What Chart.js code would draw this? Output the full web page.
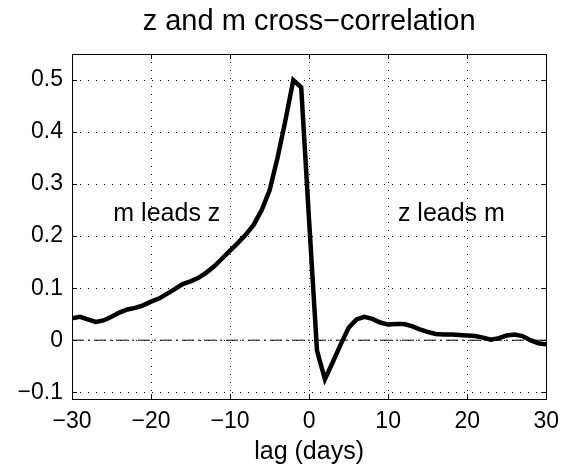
<!DOCTYPE html>
<html>
<head>
<meta charset="utf-8">
<script src="https://cdn.jsdelivr.net/npm/chart.js@4/dist/chart.umd.min.js"></script>
<style>
  html, body { margin: 0; padding: 0; background: #fff; }
  #wrap { width: 568px; height: 472px; position: relative; }
</style>
</head>
<body>
<div id="wrap"><canvas id="xcorrChart"></canvas></div>
<script>
// lag in days
const lags = [-30, -29, -28, -27, -26, -25, -24, -23, -22, -21, -20, -19, -18, -17, -16, -15, -14, -13, -12, -11, -10,
  -9, -8, -7, -6, -5, -4, -3, -2, -1, 0, 1, 2, 3, 4, 5, 6, 7, 8, 9, 10,
  11, 12, 13, 14, 15, 16, 17, 18, 19, 20, 21, 22, 23, 24, 25, 26, 27, 28, 29, 30];

// cross-correlation z / m
const xcorr = [0.042, 0.045, 0.040, 0.035, 0.038, 0.045, 0.053, 0.059, 0.062, 0.067, 0.074,
  0.080, 0.089, 0.098, 0.108, 0.113, 0.120, 0.130, 0.142, 0.157, 0.172,
  0.187, 0.203, 0.222, 0.250, 0.288, 0.350, 0.422, 0.500, 0.486, 0.230,
  -0.020, -0.075, -0.042, -0.008, 0.024, 0.040, 0.045, 0.041, 0.034, 0.030,
  0.031, 0.031, 0.027, 0.021, 0.016, 0.012, 0.011, 0.011, 0.010, 0.009,
  0.008, 0.005, 0.001, 0.004, 0.009, 0.011, 0.008, 0.000, -0.006, -0.008];

// dash-dot zero reference
const zeroX = [-30, 30];
const zeroY = [0, 0];

const xTicks = [-30, -20, -10, 0, 10, 20, 30];
const yTicks = [-0.1, 0, 0.1, 0.2, 0.3, 0.4, 0.5];

const notes = [
  { text: 'm leads z', x: -18, y: 0.2296 },
  { text: 'z leads m', x: 18, y: 0.2296 }
];

const FONT = '"Liberation Sans", Arial, Helvetica, sans-serif';

function fmt(v) {
  const r = Math.round(v * 10) / 10;
  const s = String(Math.abs(r));
  return r < 0 ? '\u2212' + s : s;
}

// frame, inward ticks and text labels like matlab
const boxPlugin = {
  id: 'box',
  afterDatasetsDraw(chart) {
    const ctx = chart.ctx;
    const a = chart.chartArea;
    const xs = chart.scales.x, ys = chart.scales.y;
    ctx.save();
    ctx.strokeStyle = '#000';
    ctx.lineWidth = 1;
    ctx.setLineDash([]);
    ctx.strokeRect(Math.round(a.left) + 0.5, Math.round(a.top) + 0.5,
      Math.round(a.right - a.left), Math.round(a.bottom - a.top));
    ctx.beginPath();
    xTicks.forEach(v => {
      const px = Math.round(xs.getPixelForValue(v)) + 0.5;
      ctx.moveTo(px, a.bottom); ctx.lineTo(px, a.bottom - 5);
      ctx.moveTo(px, a.top); ctx.lineTo(px, a.top + 5);
    });
    yTicks.forEach(v => {
      const py = Math.round(ys.getPixelForValue(v)) + 0.5;
      ctx.moveTo(a.left, py); ctx.lineTo(a.left + 5, py);
      ctx.moveTo(a.right, py); ctx.lineTo(a.right - 5, py);
    });
    ctx.stroke();

    ctx.fillStyle = '#000';
    ctx.font = '25px ' + FONT;
    ctx.textAlign = 'center';
    ctx.textBaseline = 'alphabetic';
    notes.forEach(n => {
      ctx.fillText(n.text, xs.getPixelForValue(n.x), ys.getPixelForValue(n.y));
    });
    ctx.restore();
  }
};

Chart.defaults.color = '#000';
Chart.defaults.font.family = FONT;

const ctx = document.getElementById('xcorrChart').getContext('2d');
const xcorrChart = new Chart(ctx, {
  type: 'line',
  data: {
    datasets: [{
      label: 'xcorr',
      data: lags.map((l, i) => ({ x: l, y: xcorr[i] })),
      borderColor: '#000',
      borderWidth: 4.5,
      pointRadius: 0,
      tension: 0,
      fill: false,
      order: 1
    }, {
      label: 'zero',
      data: zeroX.map((l, i) => ({ x: l, y: zeroY[i] })),
      borderColor: '#000',
      borderWidth: 1,
      borderDash: [12, 4, 2, 4],
      pointRadius: 0,
      fill: false,
      order: 2
    }]
  },
  options: {
    responsive: true,
    maintainAspectRatio: false,
    animation: false,
    layout: { padding: { left: 0, right: 16, top: 0, bottom: 0 } },
    plugins: {
      legend: { display: false },
      tooltip: { enabled: false },
      title: {
        display: true,
        text: 'z and m cross\u2212correlation',
        fullSize: false,
        font: { size: 29, weight: 'normal' },
        padding: { top: 5, bottom: 14.2 }
      }
    },
    scales: {
      x: {
        type: 'linear',
        min: -30,
        max: 30,
        afterBuildTicks: s => { s.ticks = xTicks.map(v => ({ value: v })); },
        afterFit: s => { s.height = 73; },
        ticks: {
          font: { size: 23 },
          padding: 9,
          maxRotation: 0,
          autoSkip: false,
          callback: v => fmt(v)
        },
        grid: { color: '#000', lineWidth: 1, drawTicks: false },
        border: { display: false, dash: [1, 7] },
        title: {
          display: true,
          text: 'lag (days)',
          font: { size: 25 },
          padding: { top: 0, bottom: 4.8 }
        }
      },
      y: {
        type: 'linear',
        min: -0.113,
        max: 0.55,
        afterBuildTicks: s => { s.ticks = yTicks.map(v => ({ value: v })); },
        afterFit: s => { s.width = 72; },
        ticks: {
          font: { size: 23 },
          padding: 9,
          autoSkip: false,
          callback: v => fmt(v)
        },
        grid: { color: '#000', lineWidth: 1, drawTicks: false },
        border: { display: false, dash: [1, 7] }
      }
    }
  },
  plugins: [boxPlugin]
});
</script>
</body>
</html>
